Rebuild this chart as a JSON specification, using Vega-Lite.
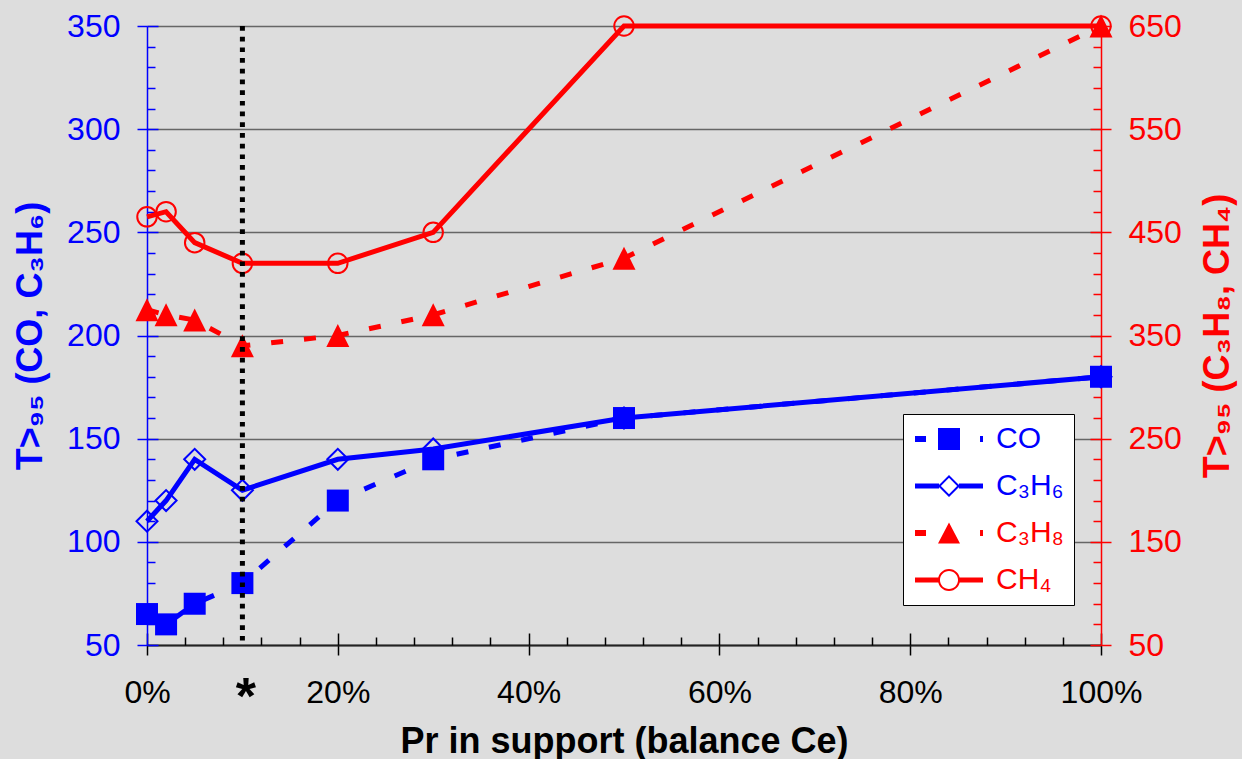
{
  "$schema": "https://vega.github.io/schema/vega-lite/v6.json",
  "width": 954,
  "height": 619,
  "autosize": {"type": "none"},
  "padding": {"left": 147, "top": 26, "right": 141, "bottom": 114},
  "background": "#dddddd",
  "config": {
    "view": {"stroke": null},
    "font": "Liberation Sans",
    "axis": {"labelFont": "Liberation Sans", "titleFont": "Liberation Sans"},
    "legend": {"labelFont": "Liberation Sans"}
  },
  "data": {
    "values": [
      {"pr": 0, "series": "CO", "t": 65},
      {"pr": 2, "series": "CO", "t": 60},
      {"pr": 5, "series": "CO", "t": 70},
      {"pr": 10, "series": "CO", "t": 80},
      {"pr": 20, "series": "CO", "t": 120},
      {"pr": 30, "series": "CO", "t": 140},
      {"pr": 50, "series": "CO", "t": 160},
      {"pr": 100, "series": "CO", "t": 180},
      {"pr": 0, "series": "C3H6", "t": 110},
      {"pr": 2, "series": "C3H6", "t": 120},
      {"pr": 5, "series": "C3H6", "t": 140},
      {"pr": 10, "series": "C3H6", "t": 125},
      {"pr": 20, "series": "C3H6", "t": 140},
      {"pr": 30, "series": "C3H6", "t": 145},
      {"pr": 50, "series": "C3H6", "t": 160},
      {"pr": 100, "series": "C3H6", "t": 180},
      {"pr": 0, "series": "C3H8", "t": 375},
      {"pr": 2, "series": "C3H8", "t": 370},
      {"pr": 5, "series": "C3H8", "t": 365},
      {"pr": 10, "series": "C3H8", "t": 340},
      {"pr": 20, "series": "C3H8", "t": 350},
      {"pr": 30, "series": "C3H8", "t": 370},
      {"pr": 50, "series": "C3H8", "t": 425},
      {"pr": 100, "series": "C3H8", "t": 650},
      {"pr": 0, "series": "CH4", "t": 465},
      {"pr": 2, "series": "CH4", "t": 470},
      {"pr": 5, "series": "CH4", "t": 440},
      {"pr": 10, "series": "CH4", "t": 420},
      {"pr": 20, "series": "CH4", "t": 420},
      {"pr": 30, "series": "CH4", "t": 450},
      {"pr": 50, "series": "CH4", "t": 650},
      {"pr": 100, "series": "CH4", "t": 650}
    ]
  },
  "layer": [
    {
      "resolve": {"axis": {"x": "independent", "y": "independent"}},
      "layer": [
        {
          "transform": [{"filter": "datum.series === 'CO'"}],
          "mark": {"type": "line", "strokeWidth": 5, "strokeDash": [12, 21]},
          "encoding": {
            "x": {
              "field": "pr", "type": "quantitative",
              "scale": {"domain": [0, 100], "nice": false, "zero": false},
              "axis": {
                "orient": "bottom", "values": [0, 20, 40, 60, 80, 100],
                "labelExpr": "datum.value + '%'",
                "title": "Pr in support (balance Ce)",
                "titleFontSize": 36, "titleFontWeight": "bold", "titleColor": "#000000", "titlePadding": 16,
                "labelFontSize": 32, "labelColor": "#000000", "labelPadding": 22,
                "tickSize": 10, "tickColor": "#000000", "tickWidth": 1.5,
                "domainColor": "#222222", "domainWidth": 2,
                "grid": false, "labelFlush": false, "labelOverlap": false
              }
            },
            "y": {
              "field": "t", "type": "quantitative",
              "scale": {"domain": [50, 350], "nice": false, "zero": false},
              "axis": {
                "orient": "left", "values": [50, 100, 150, 200, 250, 300, 350],
                "title": "T>₉₅ (CO, C₃H₆)",
                "titleFontSize": 36, "titleFontWeight": "bold", "titleColor": "#0000ff", "titlePadding": 17,
                "labelFontSize": 32, "labelColor": "#0000ff", "labelPadding": 17,
                "tickSize": 10, "tickColor": "#0000ff", "tickWidth": 1.5,
                "domainColor": "#0000ff", "domainWidth": 1.5,
                "grid": true, "gridColor": "#666666", "gridWidth": 1.5,
                "labelFlush": false, "labelOverlap": false
              }
            },
            "color": {
              "field": "series", "type": "nominal",
              "scale": {"domain": ["CO", "C3H6", "C3H8", "CH4"], "range": ["#0000ff", "#0000ff", "#ff0000", "#ff0000"]},
              "legend": {
                "orient": "none", "legendX": 756, "legendY": 388, "direction": "vertical",
                "title": null, "fillColor": "#ffffff", "strokeColor": "#000000", "padding": 10,
                "symbolSize": 484, "symbolStrokeWidth": 0, "symbolOffset": 21,
                "labelFontSize": 30, "labelOffset": 32, "rowPadding": 17, "labelLimit": 300,
                "labelExpr": "datum.label === 'C3H6' ? 'C₃H₆' : datum.label === 'C3H8' ? 'C₃H₈' : datum.label === 'CH4' ? 'CH₄' : datum.label",
                "encode": {
                  "symbols": {
                    "update": {
                      "shape": [
                        {"test": "datum.value === 'CO'", "value": "M-3.09,-0.27H-2.09V0.27H-3.09Z M-1,-1H1V1H-1Z M2.82,-0.27H3.09V0.27H2.82Z"},
                        {"test": "datum.value === 'C3H6'", "value": "M-3.09,-0.23H-0.9V0.23H-3.09Z M0.9,-0.23H3.09V0.23H0.9Z M0,-1L1,0L0,1L-1,0Z M0,-0.74L-0.74,0L0,0.74L0.74,0Z"},
                        {"test": "datum.value === 'C3H8'", "value": "M-3.09,-0.27H-2.09V0.27H-3.09Z M0,-0.95L1,0.95L-1,0.95Z M2.82,-0.27H3.09V0.27H2.82Z"},
                        {"value": "M-3.09,-0.23H-0.9V0.23H-3.09Z M0.9,-0.23H3.09V0.23H0.9Z M-1,0A1,1 0 1,1 1,0A1,1 0 1,1 -1,0Z M-0.82,0A0.82,0.82 0 1,0 0.82,0A0.82,0.82 0 1,0 -0.82,0Z"}
                      ],
                      "fill": [
                        {"test": "datum.value === 'CO' || datum.value === 'C3H6'", "value": "#0000ff"},
                        {"value": "#ff0000"}
                      ],
                      "stroke": {"value": "transparent"},
                      "strokeWidth": {"value": 0},
                      "strokeDash": {"value": []},
                      "opacity": {"value": 1},
                      "size": {"value": 484}
                    }
                  },
                  "labels": {
                    "update": {
                      "fill": [
                        {"test": "datum.value === 'CO' || datum.value === 'C3H6'", "value": "#0000ff"},
                        {"value": "#ff0000"}
                      ]
                    }
                  }
                }
              }
            }
          }
        },
        {
          "transform": [{"filter": "datum.series === 'C3H6'"}],
          "mark": {"type": "line", "strokeWidth": 5},
          "encoding": {
            "x": {
              "field": "pr", "type": "quantitative",
              "axis": {
                "orient": "bottom",
                "values": [0, 4, 8, 12, 16, 20, 24, 28, 32, 36, 40, 44, 48, 52, 56, 60, 64, 68, 72, 76, 80, 84, 88, 92, 96, 100],
                "labels": false, "domain": false, "grid": false, "title": null,
                "tickColor": "#000000", "tickWidth": 1.5,
                "tickSize": {"condition": {"test": "datum.value % 20 === 0", "value": -12}, "value": -8}
              }
            },
            "y": {"field": "t", "type": "quantitative", "axis": null},
            "color": {"field": "series", "type": "nominal", "scale": {"domain": ["CO", "C3H6", "C3H8", "CH4"], "range": ["#0000ff", "#0000ff", "#ff0000", "#ff0000"]}, "legend": null}
          }
        },
        {
          "transform": [{"filter": "datum.series === 'CO'"}],
          "mark": {"type": "point", "shape": "square", "filled": true, "size": 484, "opacity": 1},
          "encoding": {
            "x": {"field": "pr", "type": "quantitative", "axis": null},
            "y": {
              "field": "t", "type": "quantitative",
              "axis": {
                "orient": "left",
                "values": [50, 60, 70, 80, 90, 100, 110, 120, 130, 140, 150, 160, 170, 180, 190, 200, 210, 220, 230, 240, 250, 260, 270, 280, 290, 300, 310, 320, 330, 340, 350],
                "labels": false, "domain": false, "grid": false, "title": null,
                "tickColor": "#0000ff", "tickWidth": 1.5,
                "tickSize": {"condition": {"test": "datum.value % 50 === 0", "value": -11}, "value": -8}
              }
            },
            "color": {"field": "series", "type": "nominal", "scale": {"domain": ["CO", "C3H6", "C3H8", "CH4"], "range": ["#0000ff", "#0000ff", "#ff0000", "#ff0000"]}, "legend": null}
          }
        },
        {
          "transform": [{"filter": "datum.series === 'C3H6'"}],
          "mark": {"type": "point", "shape": "diamond", "filled": false, "size": 441, "strokeWidth": 2, "opacity": 1},
          "encoding": {
            "x": {
              "field": "pr", "type": "quantitative",
              "axis": {
                "orient": "bottom", "values": [10], "labelExpr": "'*'",
                "ticks": false, "tickSize": 0, "domain": false, "grid": false, "title": null,
                "labelFontSize": 52, "labelFontWeight": "bold", "labelColor": "#000000",
                "labelBaseline": "alphabetic", "labelPadding": 68, "labelOffset": 3, "labelFlush": false
              }
            },
            "y": {"field": "t", "type": "quantitative", "axis": null},
            "color": {"field": "series", "type": "nominal", "scale": {"domain": ["CO", "C3H6", "C3H8", "CH4"], "range": ["#0000ff", "#0000ff", "#ff0000", "#ff0000"]}, "legend": null}
          }
        }
      ]
    },
    {
      "resolve": {"axis": {"y": "independent"}},
      "layer": [
        {
          "transform": [{"filter": "datum.series === 'CH4'"}],
          "mark": {"type": "line", "strokeWidth": 5},
          "encoding": {
            "x": {"field": "pr", "type": "quantitative", "axis": null},
            "y": {
              "field": "t", "type": "quantitative",
              "scale": {"domain": [50, 650], "nice": false, "zero": false},
              "axis": {
                "orient": "right", "values": [50, 150, 250, 350, 450, 550, 650],
                "title": "T>₉₅ (C₃H₈, CH₄)", "titleAngle": 270, "titleBaseline": "top",
                "titleFontSize": 36, "titleFontWeight": "bold", "titleColor": "#ff0000", "titlePadding": 19,
                "labelFontSize": 32, "labelColor": "#ff0000", "labelPadding": 17,
                "tickSize": 10, "tickColor": "#ff0000", "tickWidth": 1.5,
                "domainColor": "#ff0000", "domainWidth": 1.5,
                "grid": false, "labelFlush": false, "labelOverlap": false
              }
            },
            "color": {"field": "series", "type": "nominal", "scale": {"domain": ["CO", "C3H6", "C3H8", "CH4"], "range": ["#0000ff", "#0000ff", "#ff0000", "#ff0000"]}, "legend": null}
          }
        },
        {
          "transform": [{"filter": "datum.series === 'C3H8'"}],
          "mark": {"type": "line", "strokeWidth": 5, "strokeDash": [12, 21]},
          "encoding": {
            "x": {"field": "pr", "type": "quantitative", "axis": null},
            "y": {"field": "t", "type": "quantitative", "axis": null},
            "color": {"field": "series", "type": "nominal", "scale": {"domain": ["CO", "C3H6", "C3H8", "CH4"], "range": ["#0000ff", "#0000ff", "#ff0000", "#ff0000"]}, "legend": null}
          }
        },
        {
          "transform": [{"filter": "datum.series === 'CH4'"}],
          "mark": {"type": "point", "shape": "circle", "filled": false, "size": 380, "strokeWidth": 2, "opacity": 1},
          "encoding": {
            "x": {"field": "pr", "type": "quantitative", "axis": null},
            "y": {
              "field": "t", "type": "quantitative",
              "axis": {
                "orient": "right",
                "values": [50, 70, 90, 110, 130, 150, 170, 190, 210, 230, 250, 270, 290, 310, 330, 350, 370, 390, 410, 430, 450, 470, 490, 510, 530, 550, 570, 590, 610, 630, 650],
                "labels": false, "domain": false, "grid": false, "title": null,
                "tickColor": "#ff0000", "tickWidth": 1.5,
                "tickSize": {"condition": {"test": "(datum.value - 50) % 100 === 0", "value": -11}, "value": -8}
              }
            },
            "color": {"field": "series", "type": "nominal", "scale": {"domain": ["CO", "C3H6", "C3H8", "CH4"], "range": ["#0000ff", "#0000ff", "#ff0000", "#ff0000"]}, "legend": null}
          }
        },
        {
          "transform": [{"filter": "datum.series === 'C3H8'"}],
          "mark": {"type": "point", "shape": "M0,-1L1,1L-1,1Z", "filled": true, "size": 529, "opacity": 1},
          "encoding": {
            "x": {"field": "pr", "type": "quantitative", "axis": null},
            "y": {"field": "t", "type": "quantitative", "axis": null},
            "color": {"field": "series", "type": "nominal", "scale": {"domain": ["CO", "C3H6", "C3H8", "CH4"], "range": ["#0000ff", "#0000ff", "#ff0000", "#ff0000"]}, "legend": null}
          }
        }
      ]
    },
    {
      "data": {"values": [{"pr": 10}]},
      "mark": {"type": "rule", "color": "#000000", "strokeWidth": 5, "strokeDash": [4.7, 6]},
      "encoding": {
        "x": {"field": "pr", "type": "quantitative", "axis": null}
      }
    }
  ],
  "resolve": {
    "scale": {"y": "independent"},
    "axis": {"y": "independent"}
  }
}
